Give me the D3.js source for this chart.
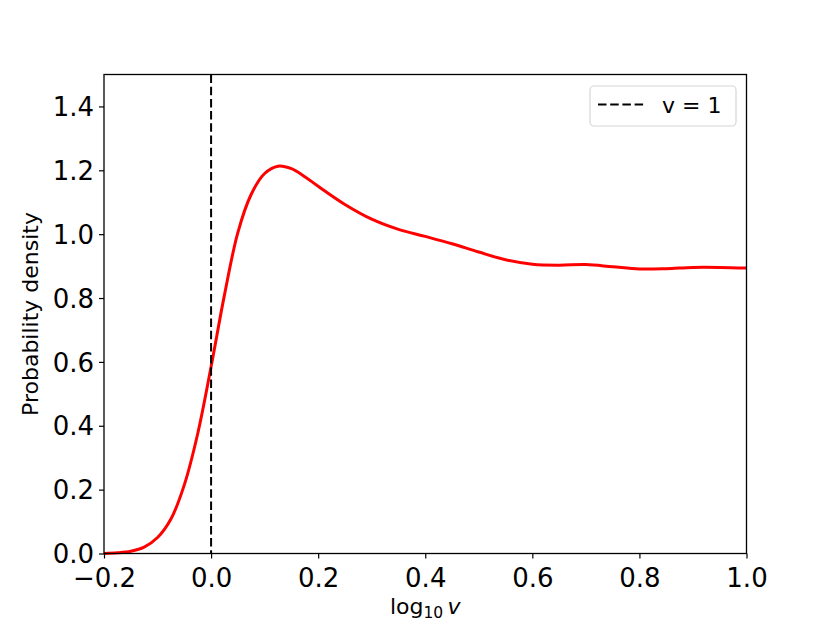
<!DOCTYPE html>
<html>
<head>
<meta charset="utf-8">
<script src="https://cdn.jsdelivr.net/npm/d3@7"></script>
<style>
  body { margin: 0; background: #fff; }
  svg { display: block; font-family: "DejaVu Sans", sans-serif; }
</style>
</head>
<body>
<svg id="chart" width="830" height="623"></svg>
<script>
// ---- data ----
const xValues = [-0.2, -0.175, -0.15, -0.125, -0.1, -0.075, -0.05, -0.025, 0.0, 0.025, 0.05, 0.075, 0.1, 0.125, 0.15, 0.175, 0.2, 0.25, 0.3, 0.35, 0.4, 0.45, 0.5, 0.55, 0.6, 0.65, 0.7, 0.75, 0.8, 0.85, 0.9, 0.95, 1.0];
const densityValues = [0.0, 0.002, 0.007, 0.02, 0.05, 0.108, 0.215, 0.375, 0.585, 0.81, 1.005, 1.125, 1.19, 1.213, 1.205, 1.18, 1.15, 1.093, 1.047, 1.015, 0.993, 0.970, 0.944, 0.920, 0.906, 0.903, 0.905, 0.898, 0.891, 0.892, 0.896, 0.896, 0.894];
const xTicks = [-0.2, 0.0, 0.2, 0.4, 0.6, 0.8, 1.0];
const yTicks = [0.0, 0.2, 0.4, 0.6, 0.8, 1.0, 1.2, 1.4];
const refLineX = 0;
const legendLabel = "v = 1";
const yLabel = "Probability density";

// ---- layout ----
const svg = d3.select("#chart");
const mLeft = 104, mRight = 746.5, mTop = 74.5, mBottom = 553.5;
const x = d3.scaleLinear().domain([-0.2, 1.0]).range([mLeft, mRight]);
const y = d3.scaleLinear().domain([0, 1.5]).range([mBottom, mTop]);

const fmt = d => (d < 0 ? "\u2212" : "") + Math.abs(d).toFixed(1);

// curve
const line = d3.line().x((d, i) => x(xValues[i])).y(d => y(d)).curve(d3.curveCatmullRom.alpha(0.5));
svg.append("path")
  .datum(densityValues)
  .attr("d", line)
  .attr("fill", "none")
  .attr("stroke", "#ff0000")
  .attr("stroke-width", 3);

// reference line
svg.append("line")
  .attr("x1", x(refLineX)).attr("x2", x(refLineX))
  .attr("y1", mTop).attr("y2", mBottom)
  .attr("stroke", "#000").attr("stroke-width", 2)
  .attr("stroke-dasharray", "8.5,3.7");

// axes
const xAxis = d3.axisBottom(x).tickValues(xTicks).tickFormat(fmt).tickSize(5).tickPadding(5);
const yAxis = d3.axisLeft(y).tickValues(yTicks).tickFormat(fmt).tickSize(5).tickPadding(5);

const gx = svg.append("g").attr("transform", `translate(0,${mBottom})`).call(xAxis);
const gy = svg.append("g").attr("transform", `translate(${mLeft},0)`).call(yAxis);
[gx, gy].forEach(g => {
  g.select(".domain").remove();
  g.selectAll(".tick line").attr("stroke", "#000").attr("stroke-width", 1.2);
  g.selectAll(".tick text").attr("fill", "#000").style("font-size", "26px").style("font-family", "'DejaVu Sans', sans-serif");
});
gx.selectAll(".tick text").attr("dy", "0.9em");
gy.selectAll(".tick text").attr("dy", "0.35em");

// frame
svg.append("rect")
  .attr("x", mLeft).attr("y", mTop)
  .attr("width", mRight - mLeft).attr("height", mBottom - mTop)
  .attr("fill", "none").attr("stroke", "#000").attr("stroke-width", 1.3);

// axis labels
const xl = svg.append("text")
  .attr("x", (mLeft + mRight) / 2).attr("y", 614)
  .attr("text-anchor", "middle")
  .style("font-size", "22px");
xl.append("tspan").text("log");
xl.append("tspan").text("10").style("font-size", "15.5px").attr("dy", 4);
xl.append("tspan").text("\u2009").attr("dy", -4);
xl.append("tspan").text("v").style("font-style", "italic");

svg.append("text")
  .attr("transform", `translate(38,${(mTop + mBottom) / 2}) rotate(-90)`)
  .attr("text-anchor", "middle")
  .style("font-size", "22px")
  .text(yLabel);

// legend
const lg = svg.append("g");
lg.append("rect")
  .attr("x", 590).attr("y", 86).attr("width", 146).attr("height", 40)
  .attr("rx", 4).attr("ry", 4)
  .attr("fill", "#fff").attr("fill-opacity", 0.8)
  .attr("stroke", "#d6d6d6").attr("stroke-width", 1.2);
lg.append("line")
  .attr("x1", 598).attr("x2", 646).attr("y1", 104.5).attr("y2", 104.5)
  .attr("stroke", "#000").attr("stroke-width", 2)
  .attr("stroke-dasharray", "8.5,3.7");
lg.append("text")
  .attr("x", 662).attr("y", 113)
  .style("font-size", "22px")
  .text(legendLabel);
</script>
</body>
</html>
